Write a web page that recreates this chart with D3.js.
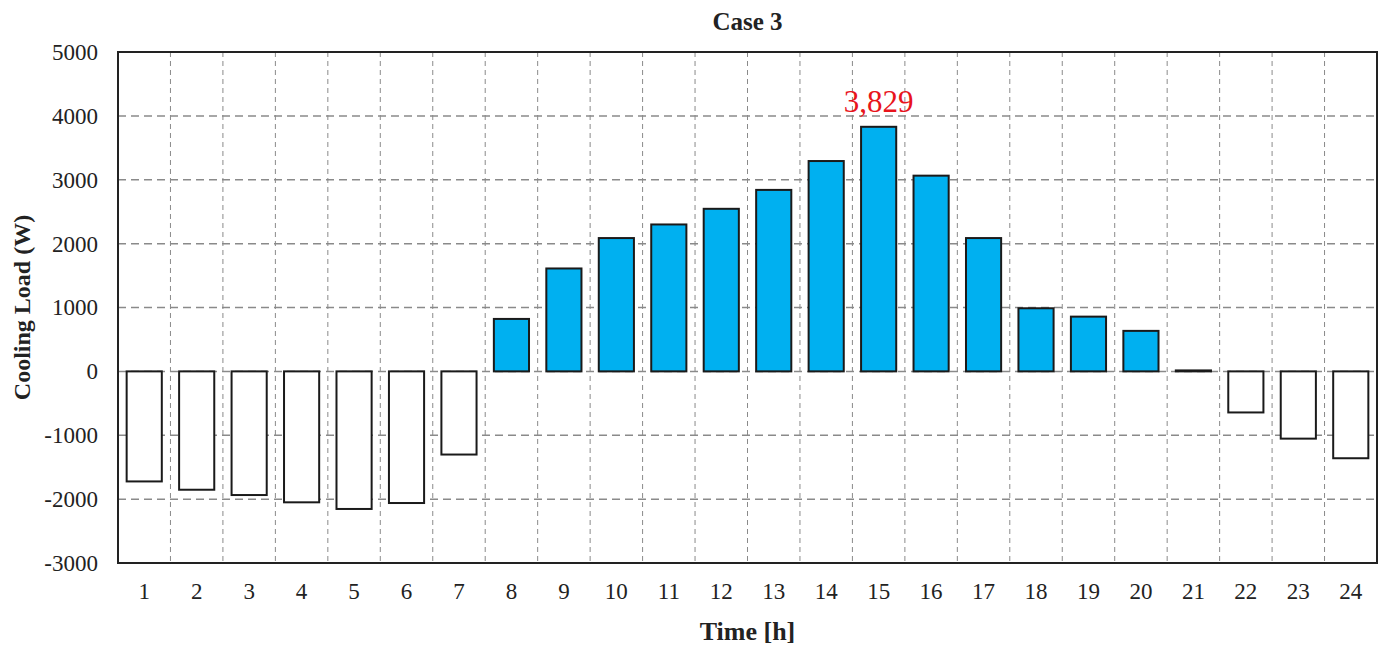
<!DOCTYPE html>
<html>
<head>
<meta charset="utf-8">
<script src="https://cdn.jsdelivr.net/npm/d3@7"></script>
<style>
  body { margin: 0; background: #ffffff; }
  svg text { font-family: "Liberation Serif", "Times New Roman", serif; fill: #222; }
</style>
</head>
<body>
<svg id="canvas"></svg>
<script>
// Chart data.
var hours = d3.range(1, 25);
var coolingLoad = [-1723, -1853, -1936, -2050, -2154, -2061, -1302, 821, 1611, 2087,
                   2300, 2545, 2841, 3293, 3829, 3064, 2087, 988, 857, 634,
                   15, -643, -1053, -1360];
var yTicks = [-3000, -2000, -1000, 0, 1000, 2000, 3000, 4000, 5000];
var peakLabel = '3,829';

// Canvas settings.
var canvas = {
  dim: { w: 1393, h: 649 },
  margin: { top: 52, right: 16, bottom: 86, left: 118 },
  colours: {
    positive: '#00B0F0',
    negative: '#ffffff',
    grid: '#8a8a8a',
    frame: '#222222',
    peak: '#E8141C'
  }
};

var innerW = canvas.dim.w - canvas.margin.left - canvas.margin.right;
var innerH = canvas.dim.h - canvas.margin.top - canvas.margin.bottom;

var svg = d3.select('#canvas')
            .attr('width', canvas.dim.w)
            .attr('height', canvas.dim.h);

var g = svg.append('g')
           .attr('transform', 'translate(' + canvas.margin.left + ',' + canvas.margin.top + ')');

// Scales.
var x = d3.scaleBand()
          .domain(hours)
          .range([0, innerW])
          .paddingInner(0.33)
          .paddingOuter(0.165);

var y = d3.scaleLinear()
          .domain([-3000, 5000])
          .range([innerH, 0]);

var step = x.step();

// Horizontal grid lines.
g.append('g')
  .selectAll('line')
  .data(yTicks.slice(1, -1))
  .enter()
  .append('line')
  .attr('x1', 0)
  .attr('x2', innerW)
  .attr('y1', function(d) { return y(d); })
  .attr('y2', function(d) { return y(d); })
  .attr('stroke', canvas.colours.grid)
  .attr('stroke-width', 1.5)
  .attr('stroke-dasharray', '8,5');

// Vertical grid lines between categories.
g.append('g')
  .selectAll('line')
  .data(hours.slice(1))
  .enter()
  .append('line')
  .attr('x1', function(d) { return x(d) - (step - x.bandwidth()) / 2; })
  .attr('x2', function(d) { return x(d) - (step - x.bandwidth()) / 2; })
  .attr('y1', 0)
  .attr('y2', innerH)
  .attr('stroke', canvas.colours.grid)
  .attr('stroke-width', 1)
  .attr('stroke-dasharray', '5,4');

// Bars.
g.append('g')
  .selectAll('rect')
  .data(coolingLoad)
  .enter()
  .append('rect')
  .attr('x', function(d, i) { return x(hours[i]); })
  .attr('width', x.bandwidth())
  .attr('y', function(d) { return y(Math.max(0, d)); })
  .attr('height', function(d) { return Math.abs(y(d) - y(0)); })
  .attr('fill', function(d) { return d >= 0 ? canvas.colours.positive : canvas.colours.negative; })
  .attr('stroke', '#1a1a1a')
  .attr('stroke-width', 2);

// Peak label.
var peakIndex = coolingLoad.indexOf(d3.max(coolingLoad));
g.append('text')
  .attr('x', x(hours[peakIndex]) + x.bandwidth() / 2)
  .attr('y', y(coolingLoad[peakIndex]) - 15)
  .attr('text-anchor', 'middle')
  .style('fill', canvas.colours.peak)
  .style('font-size', '31px')
  .text(peakLabel);

// Plot frame.
g.append('rect')
  .attr('width', innerW)
  .attr('height', innerH)
  .attr('fill', 'none')
  .attr('stroke', canvas.colours.frame)
  .attr('stroke-width', 2);

// Y axis labels (plain hyphen for negatives).
var yAxis = g.append('g')
             .call(d3.axisLeft(y).tickValues(yTicks).tickSize(0).tickPadding(20)
                     .tickFormat(function(d) { return String(d); }));
yAxis.select('.domain').remove();
yAxis.selectAll('text').style('font-size', '23px').style('fill', '#222');

// X axis labels.
var xAxis = g.append('g')
             .attr('transform', 'translate(0,' + innerH + ')')
             .call(d3.axisBottom(x).tickSize(0).tickPadding(20));
xAxis.select('.domain').remove();
xAxis.selectAll('text').style('font-size', '23px').style('fill', '#222');

// Title.
svg.append('text')
   .attr('x', canvas.margin.left + innerW / 2)
   .attr('y', 30)
   .attr('text-anchor', 'middle')
   .style('font-size', '25px')
   .style('font-weight', 'bold')
   .text('Case 3');

// X axis title.
svg.append('text')
   .attr('x', canvas.margin.left + innerW / 2)
   .attr('y', 640)
   .attr('text-anchor', 'middle')
   .style('font-size', '26px')
   .style('font-weight', 'bold')
   .text('Time [h]');

// Y axis title.
svg.append('text')
   .attr('transform', 'translate(30,' + (canvas.margin.top + innerH / 2) + ') rotate(-90)')
   .attr('text-anchor', 'middle')
   .style('font-size', '24px')
   .style('font-weight', 'bold')
   .text('Cooling Load (W)');
</script>
</body>
</html>
